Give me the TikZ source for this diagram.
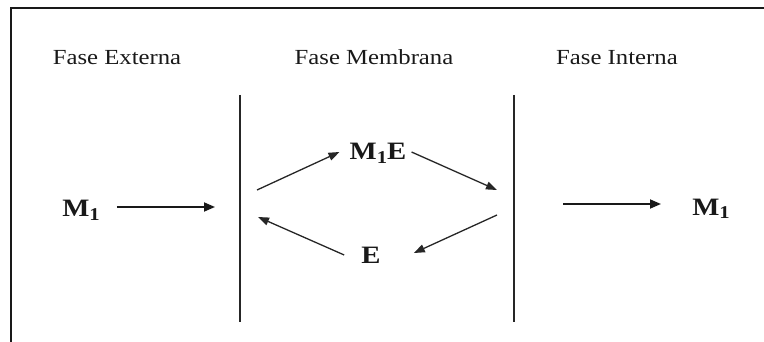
\documentclass[tikz,border=0pt]{standalone}
\usepackage{fontspec}
\setmainfont[FakeStretch=1.15]{Liberation Serif}
\usetikzlibrary{arrows.meta}
\newcommand{\subone}{\raisebox{-4pt}{\fontsize{18}{20}\selectfont 1}}
\begin{document}
\begin{tikzpicture}[x=1pt,y=-1pt,
  phase/.style={anchor=base,inner sep=0pt,font=\fontsize{21.5}{24}\selectfont,text=black!90},
  species/.style={anchor=base,inner sep=0pt,font=\fontsize{25}{28}\selectfont\bfseries,text=black!90},
  frame/.style={line width=2pt,black!90},
  wall/.style={line width=2pt,black!85},
  harrow/.style={line width=1.8pt,black!90,-{Triangle[length=11pt,width=9pt]}},
  carrow/.style={line width=1.3pt,black!85,-{Triangle[length=11pt,width=8pt]}}]
\useasboundingbox (0,0) rectangle (764,342);
% frame (open to right and bottom)
\draw[frame] (11,342) -- (11,8) -- (764,8);
% membrane walls
\coordinate (w1t) at (240,95);
\coordinate (w1b) at (240,322);
\coordinate (w2t) at (514,95);
\coordinate (w2b) at (514,322);
\draw[wall] (w1t) -- (w1b);
\draw[wall] (w2t) -- (w2b);
% phase titles
\node[phase] (pe) at (117,65) {Fase Externa};
\node[phase] (pm) at (374,65) {Fase Membrana};
\node[phase] (pi) at (617,65) {Fase Interna};
% species
\node[species] (m1l) at (81,217) {M\subone};
\node[species] (m1e) at (378,160) {M\subone E};
\node[species] (e) at (371,263) {E};
\node[species] (m1r) at (711,215) {M\subone};
% free ends near the walls
\coordinate (l1) at (215,207);
\coordinate (r1) at (563,204);
\coordinate (r1e) at (661,204);
\coordinate (cl1) at (257,190);
\coordinate (cr1) at (497,190);
\coordinate (cr2) at (497,215);
\coordinate (cl2) at (258,217);
% horizontal arrows
\draw[harrow] ([xshift=17pt]m1l.east |- l1) -- (l1);
\draw[harrow] (r1) -- (r1e);
% cycle arrows
\draw[carrow] (cl1) -- ([xshift=-10pt]m1e.west |- 0,152);
\draw[carrow] ([xshift=5pt]m1e.east |- 0,152) -- (cr1);
\draw[carrow] (cr2) -- ([xshift=33pt]e.east |- 0,253);
\draw[carrow] ([xshift=-17pt]e.west |- 0,255) -- (cl2);
\end{tikzpicture}
\end{document}
